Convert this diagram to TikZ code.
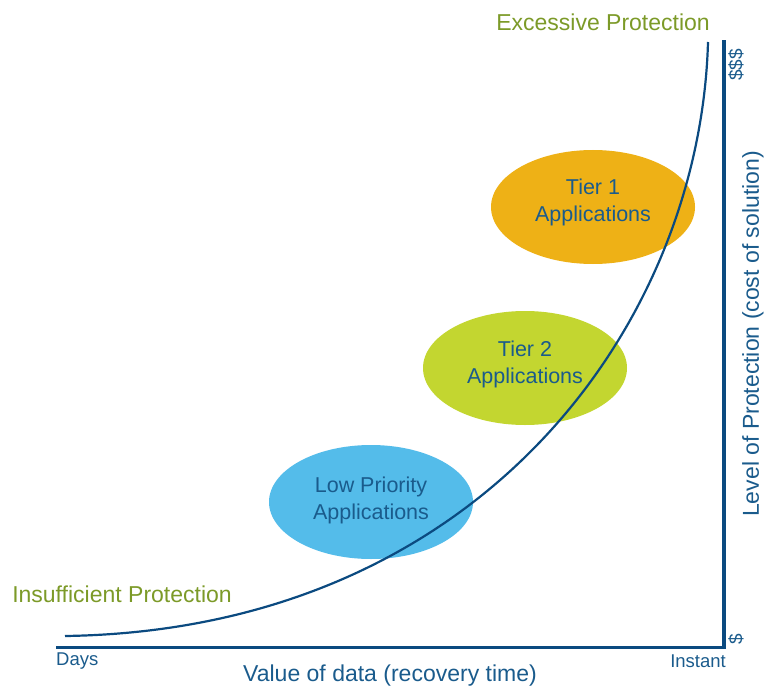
\documentclass[tikz,border=0pt]{standalone}
\usepackage{fontspec}
\setmainfont{Liberation Sans}
\usetikzlibrary{shapes.geometric}
\definecolor{axisblue}{HTML}{0B4A80}
\definecolor{txtblue}{HTML}{1A5B8C}
\definecolor{olive}{HTML}{7C9A28}
\definecolor{tierone}{HTML}{EEB116}
\definecolor{tiertwo}{HTML}{C3D630}
\definecolor{lowblue}{HTML}{54BCEA}
\tikzset{
  blob/.style={ellipse, minimum width=204pt, minimum height=114pt, inner sep=0pt},
  blobtext/.style={text=txtblue, align=center, font=\fontsize{21.5}{27}\selectfont, inner sep=0pt},
  bigtext/.style={font=\fontsize{23}{27}\selectfont, inner sep=0pt},
  axislabel/.style={font=\fontsize{18.5}{22}\selectfont, text=txtblue, inner sep=0pt},
  dollar/.style={font=\fontsize{19}{22}\selectfont, text=txtblue, rotate=90, inner sep=0pt},
  axisline/.style={draw=axisblue, line width=3.7pt},
  curveline/.style={draw=axisblue, line width=2.2pt}
}
\begin{document}
\begin{tikzpicture}[x=1pt,y=-1pt]
\useasboundingbox (0,0) rectangle (770,687);
% ellipses
\node[blob, fill=tierone] (t1) at (593,207) {};
\node[blob, fill=tiertwo] (t2) at (525,368) {};
\node[blob, fill=lowblue] (lp) at (371,502) {};
\node[blobtext] (t1t) at ([yshift=5pt]t1.center) {Tier 1\\Applications};
\node[blobtext] (t2t) at ([yshift=4pt]t2.center) {Tier 2\\Applications};
\node[blobtext] (lpt) at ([yshift=1.5pt]lp.center) {Low Priority\\Applications};
% curve
\coordinate (cstart) at (65,636);
\coordinate (cend) at (708,42);
\draw[curveline] (cstart) .. controls (480,630) and (700,325) .. (cend);
% axes
\coordinate (origin) at (724,647.5);
\coordinate (xstart) at (56,647.5);
\coordinate (ytop) at (724,40);
\draw[axisline] (xstart) -- (origin) -- (ytop);
% labels
\node[bigtext, text=olive] (exc) at (603,22) {Excessive Protection};
\node[bigtext, text=olive] (ins) at (122,594) {Insufficient Protection};
\node[bigtext, text=txtblue] (val) at (390,676) {Value of data (recovery time)};
\node[bigtext, text=txtblue, rotate=90] (lvl) at (753,334) {Level of Protection (cost of solution)};
\node[axislabel, anchor=west] (days) at (56,661) {Days};
\node[axislabel, anchor=east] (inst) at (726,661) {Instant};
\node[dollar] (ddd) at (736,65) {\$\$\$};
\node[dollar] (d1) at (736,639) {\$};
\end{tikzpicture}
\end{document}
